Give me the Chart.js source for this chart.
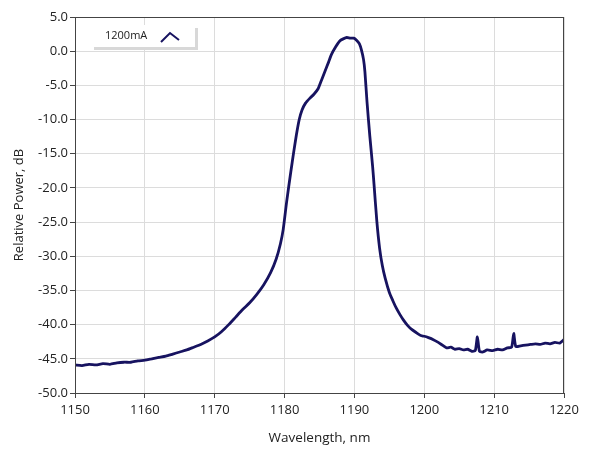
<!DOCTYPE html>
<html>
<head>
<meta charset="utf-8">
<script src="https://cdn.jsdelivr.net/npm/chart.js@4"></script>
<style>
  html, body { margin: 0; padding: 0; background: #fff; }
  #wrap { width: 589px; height: 456px; }
</style>
</head>
<body>
<div id="wrap"><canvas id="spectrum"></canvas></div>
<script>
// values
const seriesName = '1200mA';
const wavelength = [
  1150, 1151, 1152, 1153, 1154, 1155, 1156, 1157, 1158, 1159,
  1160, 1161, 1162, 1163, 1164, 1165, 1166, 1167, 1168, 1169,
  1170, 1171, 1172, 1173, 1174, 1175, 1176, 1177, 1178, 1178.8,
  1179.4, 1179.8, 1180.3, 1180.9, 1181.3, 1181.7, 1182.1, 1182.5, 1183, 1183.6,
  1184.2, 1184.8, 1185.3, 1185.8, 1186.3, 1186.7, 1187.3, 1187.9, 1188.4, 1188.9,
  1189.4, 1189.9, 1190.3, 1190.7, 1191, 1191.3, 1191.5, 1191.8, 1192.2, 1192.6,
  1192.8, 1193.2, 1193.6, 1194, 1194.4, 1195, 1195.5, 1196, 1196.5, 1197,
  1197.6, 1198.2, 1198.9, 1199.5, 1200, 1200.6, 1201.3, 1202, 1202.6, 1203.2,
  1203.8, 1204.4, 1205, 1205.6, 1206.2, 1206.8, 1207.3, 1207.6, 1207.9, 1208.4,
  1209, 1209.8, 1210.5, 1211.2, 1211.9, 1212.5, 1212.8, 1213.1, 1213.8, 1214.5,
  1215.2, 1215.9, 1216.6, 1217.3, 1218, 1218.7, 1219.4, 1220
];
const relPower = [
  -45.9, -46.0, -45.8, -45.9, -45.7, -45.8, -45.6, -45.5, -45.5, -45.3,
  -45.2, -45.0, -44.8, -44.6, -44.3, -44.0, -43.7, -43.3, -42.9, -42.4,
  -41.8, -41.0, -40.0, -38.9, -37.8, -36.8, -35.6, -34.2, -32.4, -30.4,
  -28.2, -26.1, -22.0, -17.6, -14.8, -12.2, -10.0, -8.6, -7.6, -6.9,
  -6.3, -5.5, -4.2, -2.9, -1.6, -0.5, 0.6, 1.5, 1.8, 2.0,
  1.9, 1.9, 1.6, 1.1, 0.2, -1.2, -3.0, -7.4, -12.4, -16.8,
  -19.4, -24.8, -28.8, -31.4, -33.2, -35.3, -36.5, -37.6, -38.5, -39.3,
  -40.1, -40.7, -41.2, -41.6, -41.7, -41.9, -42.2, -42.6, -43.0, -43.4,
  -43.3, -43.6, -43.5, -43.7, -43.6, -43.9, -43.8, -41.8, -43.9, -44.0,
  -43.7, -43.8, -43.6, -43.7, -43.4, -43.3, -41.3, -43.2, -43.1, -43.0,
  -42.9, -42.8, -42.9, -42.7, -42.8, -42.6, -42.7, -42.2
];
const yTicks = [5, 0, -5, -10, -15, -20, -25, -30, -35, -40, -45, -50];

const lineColor = '#171360';
const gridColor = '#dcdcdc';
const textColor = '#222';
const fontFamily = "'Open Sans', 'Noto Sans', sans-serif";

// legend box drawn in the top left corner of the plot
const legendBox = {
  id: 'legendBox',
  afterDraw(chart) {
    const ctx = chart.ctx;
    const x = chart.chartArea.left + 16, y = chart.chartArea.top + 8;
    const w = 104, h = 22;
    ctx.save();
    ctx.fillStyle = '#d8d8d8';
    ctx.fillRect(x + 3, y + 3, w, h);
    ctx.fillStyle = '#ffffff';
    ctx.fillRect(x, y, w, h);
    ctx.fillStyle = textColor;
    ctx.font = '11px ' + fontFamily;
    ctx.textBaseline = 'middle';
    ctx.fillText(seriesName, x + 14, y + h / 2);
    ctx.strokeStyle = lineColor;
    ctx.lineWidth = 2;
    ctx.beginPath();
    ctx.moveTo(x + 70, y + 17);
    ctx.lineTo(x + 79, y + 8);
    ctx.lineTo(x + 88, y + 15);
    ctx.stroke();
    ctx.restore();
  }
};

new Chart(document.getElementById('spectrum'), {
  type: 'line',
  data: {
    datasets: [{
      label: seriesName,
      data: wavelength.map((w, i) => ({ x: w, y: relPower[i] })),
      borderColor: lineColor,
      borderWidth: 2.8,
      pointRadius: 0,
      tension: 0.2,
      fill: false
    }]
  },
  options: {
    responsive: true,
    maintainAspectRatio: false,
    animation: false,
    layout: { padding: { top: 17, right: 25, left: 7, bottom: 6 } },
    plugins: {
      legend: { display: false },
      tooltip: { enabled: false }
    },
    scales: {
      x: {
        type: 'linear',
        min: 1150,
        max: 1220,
        border: { display: true, color: '#444', width: 1 },
        grid: { color: gridColor, tickColor: '#444', tickLength: 5 },
        ticks: {
          stepSize: 10,
          color: textColor,
          font: { family: fontFamily, size: 13 },
          maxRotation: 0,
          padding: 4,
          callback: v => String(v)
        },
        title: {
          display: true,
          text: 'Wavelength, nm',
          color: textColor,
          font: { family: fontFamily, size: 13.5 },
          padding: { top: 2 }
        },
        afterFit(scale) { scale.height = 57; }
      },
      y: {
        min: -50,
        max: 5,
        border: { display: true, color: '#444', width: 1 },
        grid: { color: gridColor, tickColor: '#444', tickLength: 5 },
        afterBuildTicks(scale) {
          scale.ticks = yTicks.map(v => ({ value: v }));
        },
        ticks: {
          color: textColor,
          font: { family: fontFamily, size: 13 },
          padding: 2,
          callback: v => v.toFixed(1)
        },
        title: {
          display: true,
          text: 'Relative Power, dB',
          color: textColor,
          font: { family: fontFamily, size: 13 },
          padding: { bottom: 0 }
        },
        afterFit(scale) { scale.width = 68; }
      }
    }
  },
  plugins: [legendBox, {
    id: 'frame',
    afterDatasetsDraw(chart) {
      const a = chart.chartArea, ctx = chart.ctx;
      ctx.save();
      ctx.strokeStyle = '#444';
      ctx.lineWidth = 1;
      ctx.strokeRect(a.left + 0.5, a.top + 0.5, a.right - a.left - 1, a.bottom - a.top);
      ctx.restore();
    }
  }]
});
</script>
</body>
</html>
